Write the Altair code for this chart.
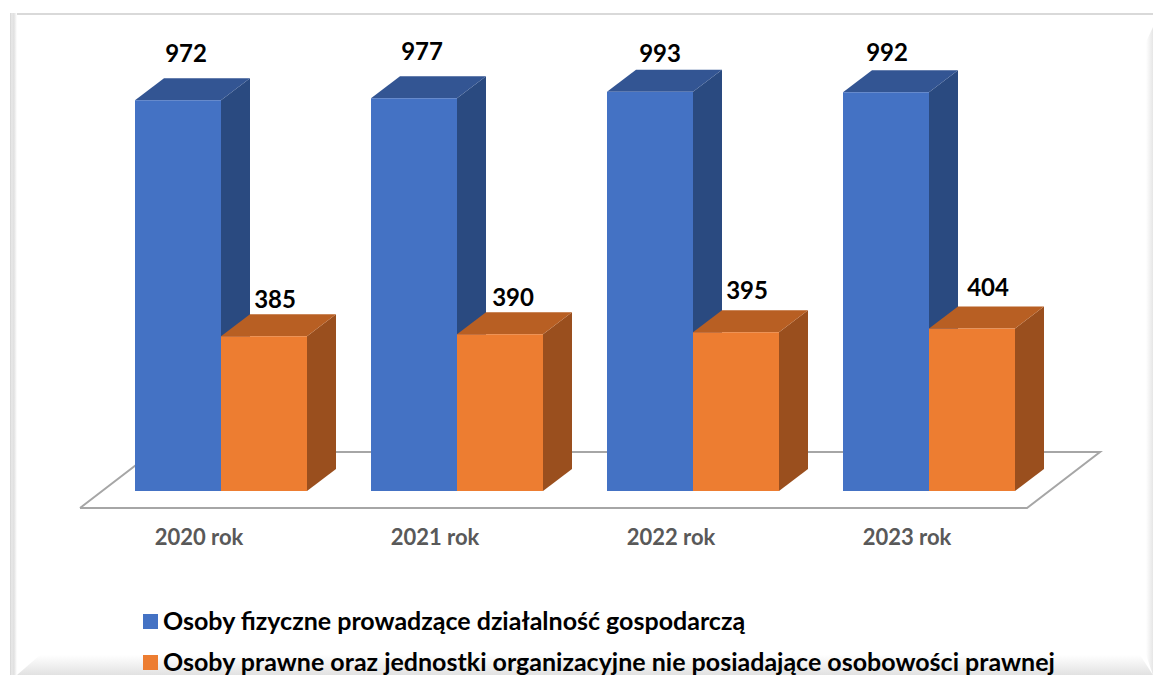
import altair as alt
import pandas as pd

years = ["2020 rok", "2021 rok", "2022 rok", "2023 rok"]
persons = [972, 977, 993, 992]
companies = [385, 390, 395, 404]
series_names = [
    "Osoby fizyczne prowadzące działalność gospodarczą",
    "Osoby prawne oraz jednostki organizacyjne nie posiadające osobowości prawnej",
]

# layout: image pixels
W, H = 1145, 667
X0, Y0 = 8, 8
GROUP_LEFT, GROUP_STEP, BAR_W = 135, 236, 86
BASE_Y, PX_PER_UNIT = 491, 0.402
DEPTH_X, DEPTH_Y = 29, 22
label_dx = [[8, 8, 10, 1], [11, 13, 11, 16]]
label_dy = [[-23, -23, -15, -16], [-13, -13, -18, -18]]
BOTTOM = Y0 + H
RIGHT = X0 + W

def vy(py):  # pixel row -> value on the y scale
    return (BASE_Y - py) / PX_PER_UNIT

x_scale = alt.Scale(domain=[X0, X0 + W], range=[0, W], nice=False, zero=False)
y_scale = alt.Scale(domain=[vy(Y0 + H), vy(Y0)], range=[H, 0], nice=False, zero=False)
X = alt.X("x:Q", scale=x_scale, axis=None)
Y = alt.Y("y:Q", scale=y_scale, axis=None, stack=None)

front, side, top, labels = [], [], [], []
dv = DEPTH_Y / PX_PER_UNIT
styles = [("#335593", "#2A4A80"), ("#B85F23", "#9A4F1E")]
for s, vals in enumerate([persons, companies]):
    for i, v in enumerate(vals):
        l = GROUP_LEFT + GROUP_STEP * i + BAR_W * s
        r = l + BAR_W
        key = f"{s}-{i}"
        front.append(dict(x=l, x2=r, y=0, y2=v, series=series_names[s], s=s))
        side += [
            dict(x=r, y=v, y2=0, id=key, fill=styles[s][1], s=s),
            dict(x=r + DEPTH_X, y=v + dv, y2=dv, id=key, fill=styles[s][1], s=s),
        ]
        top += [
            dict(x=l, y=v, y2=v, id=key, fill=styles[s][0], s=s),
            dict(x=l + DEPTH_X, y=v + dv, y2=v, id=key, fill=styles[s][0], s=s),
            dict(x=r, y=v + dv, y2=v, id=key, fill=styles[s][0], s=s),
            dict(x=r + DEPTH_X, y=v + dv, y2=v + dv, id=key, fill=styles[s][0], s=s),
        ]
        labels.append(dict(
            x=(l + r) / 2 + label_dx[s][i],
            y=v + dv - label_dy[s][i] / PX_PER_UNIT,
            text=str(v),
        ))

front = pd.DataFrame(front)
side = pd.DataFrame(side)
top = pd.DataFrame(top)

def bar_layers(s):
    return [
        alt.Chart(side[side.s == s]).mark_area(interpolate="linear").encode(
            X, Y, y2="y2:Q", detail="id:N", color=alt.Color("fill:N", scale=None)),
        alt.Chart(top[top.s == s]).mark_area(interpolate="linear").encode(
            X, Y, y2="y2:Q", detail="id:N", color=alt.Color("fill:N", scale=None)),
        alt.Chart(front[front.s == s]).mark_rect().encode(
            X, x2="x2:Q", y=Y, y2="y2:Q",
            color=alt.Color(
                "series:N",
                scale=alt.Scale(domain=series_names, range=["#4472C4", "#ED7D31"]),
                legend=alt.Legend(
                    title=None, orient="none", legendX=130, legendY=601, direction="vertical",
                    symbolType="square", symbolSize=225, symbolStrokeWidth=0,
                    labelFont="Lato", labelFontWeight="bold", labelFontSize=25, labelColor="#000000",
                    labelLimit=1100, rowPadding=15, labelOffset=0,
                ),
            )),
    ]

# floor
floor_pts = [(80, 508), (1027, 508), (1100, 452), (153, 452), (80, 508)]
floor = pd.DataFrame([dict(x=a, y=vy(b), o=k) for k, (a, b) in enumerate(floor_pts)])
floor_layer = alt.Chart(floor).mark_line(color="#A6A6A6", strokeWidth=2, strokeJoin="miter").encode(
    X, Y, order="o:Q")

# category labels
cats = pd.DataFrame([dict(x=199 + GROUP_STEP * i, y=vy(538), text=t) for i, t in enumerate(years)])
cat_layer = alt.Chart(cats).mark_text(
    font="Lato", fontWeight="bold", fontSize=22, color="#595959", baseline="middle", align="center"
).encode(X, Y, text="text:N")

value_layer = alt.Chart(pd.DataFrame(labels)).mark_text(
    font="Lato", fontWeight="bold", fontSize=24, color="#000000", baseline="middle", align="center"
).encode(X, Y, text="text:N")

# picture frame
def grad(stops, horizontal=True):
    return alt.LinearGradient(
        gradient="linear",
        stops=[alt.GradientStop(color=c, offset=o) for o, c in stops],
        x1=0, y1=0, x2=1 if horizontal else 0, y2=0 if horizontal else 1,
    )

frame_top = alt.Chart(pd.DataFrame([dict(x=10, x2=RIGHT, y=vy(13), y2=vy(15))])).mark_rect(
    color="#D9D9D9").encode(X, x2="x2:Q", y=Y, y2="y2:Q")
frame_left = alt.Chart(pd.DataFrame([dict(x=10, x2=17, y=vy(13), y2=vy(BOTTOM))])).mark_rect(
    color=grad([(0, "#D5D5D5"), (0.25, "#E8E8E8"), (0.55, "#E0E0E0"), (1, "#FFFFFF")])
).encode(X, x2="x2:Q", y=Y, y2="y2:Q")
frame_bottom = alt.Chart(pd.DataFrame([
    dict(x=17, y=vy(BOTTOM), y2=vy(BOTTOM)),
    dict(x=40, y=vy(655), y2=vy(BOTTOM)),
    dict(x=1140, y=vy(655), y2=vy(BOTTOM)),
    dict(x=RIGHT, y=vy(BOTTOM), y2=vy(BOTTOM)),
])).mark_area(interpolate="linear", color=grad([(0, "#FFFFFF"), (1, "#E2E2E2")], False)).encode(X, Y, y2="y2:Q")
frame_right = alt.Chart(pd.DataFrame([
    dict(x=1146, y=vy(42), y2=vy(655)),
    dict(x=RIGHT, y=vy(27), y2=vy(BOTTOM)),
])).mark_area(interpolate="linear", color=grad([(0, "#FFFFFF"), (1, "#E6E6E6")])).encode(X, Y, y2="y2:Q")

chart = alt.layer(
    frame_top, frame_left, frame_bottom, frame_right, floor_layer,
    *bar_layers(0), *bar_layers(1), cat_layer, value_layer,
).properties(width=W, height=H, padding=0, autosize="none", background="#FFFFFF"
).configure_view(stroke=None)

chart.save("out.html", embed_options={"renderer": "svg", "actions": False})
